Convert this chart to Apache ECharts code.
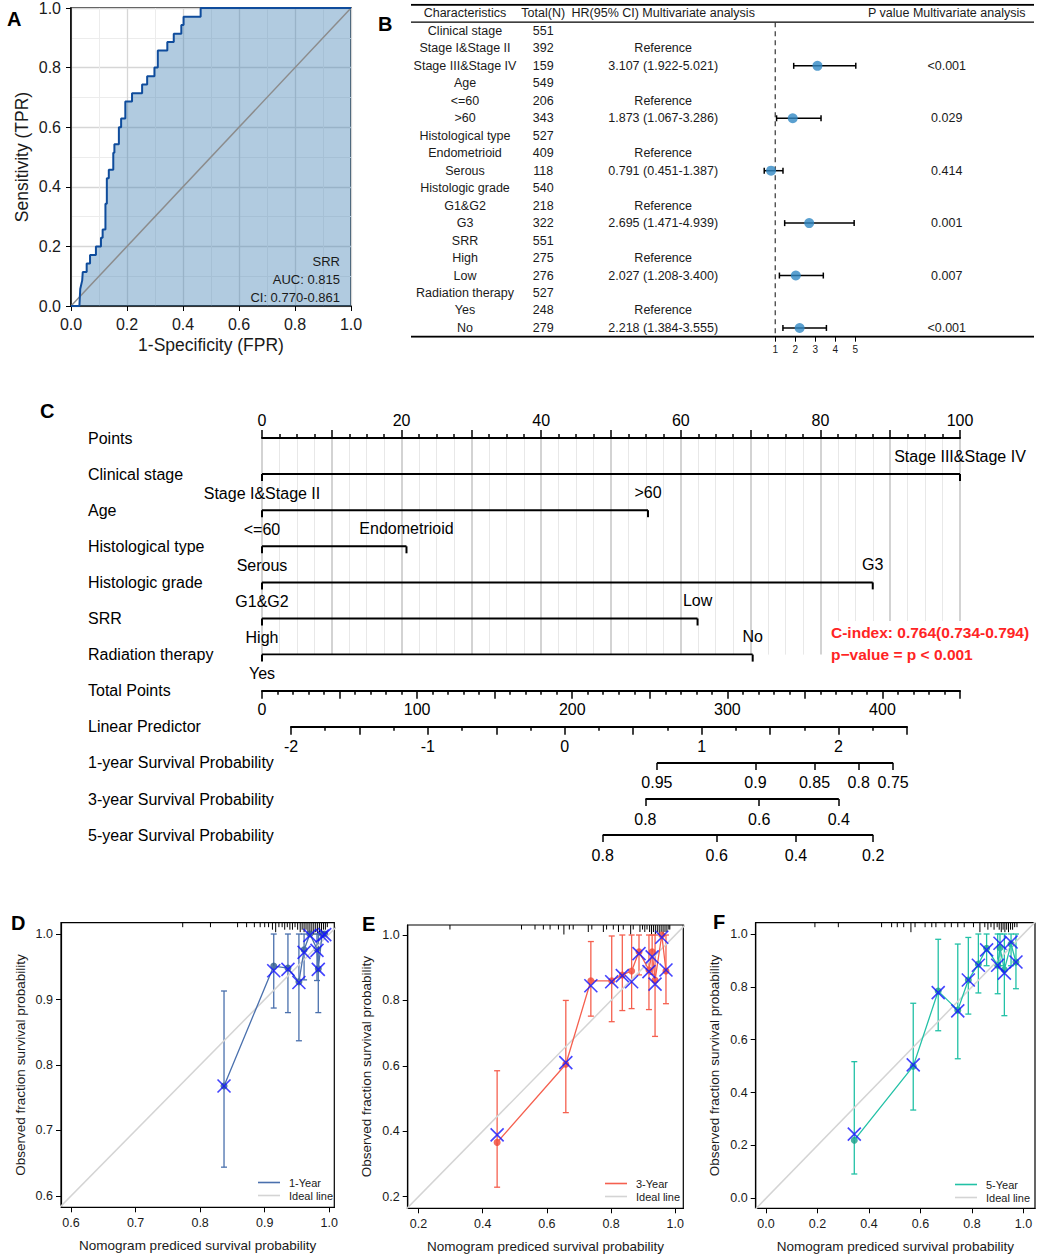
<!DOCTYPE html>
<html><head><meta charset="utf-8">
<script src="https://cdn.jsdelivr.net/npm/echarts@6/dist/echarts.min.js"></script>
<style>html,body{margin:0;padding:0;background:#fff}#c{width:1038px;height:1256px}</style>
</head><body><div id="c"></div><script>
// ---------- Panel A: ROC ----------
const rocFPR = [0,0.03,0.033,0.040,0.042,0.056,0.056,0.068,0.068,0.089,0.089,0.107,0.107,0.113,0.113,0.123,0.123,0.128,0.128,0.135,0.135,0.151,0.151,0.155,0.155,0.171,0.171,0.179,0.179,0.194,0.194,0.218,0.218,0.254,0.254,0.272,0.272,0.298,0.298,0.310,0.310,0.344,0.344,0.367,0.367,0.394,0.394,0.402,0.402,0.463,0.463,1];
const rocTPR = [0,0,0.057,0.086,0.114,0.114,0.143,0.143,0.171,0.171,0.2,0.2,0.229,0.229,0.257,0.257,0.343,0.343,0.429,0.429,0.457,0.457,0.514,0.514,0.543,0.543,0.6,0.6,0.629,0.629,0.686,0.686,0.714,0.714,0.743,0.743,0.771,0.771,0.8,0.8,0.857,0.857,0.886,0.886,0.914,0.914,0.943,0.943,0.971,0.971,1,1];
const rocText = ['SRR','AUC: 0.815','CI: 0.770-0.861'];

// ---------- Panel B: forest ----------
const forestHeader = ['Characteristics','Total(N)','HR(95% CI) Multivariate analysis','P value Multivariate analysis'];
const forestChar = ['Clinical stage','Stage I&Stage II','Stage III&Stage IV','Age','<=60','>60','Histological type','Endometrioid','Serous','Histologic grade','G1&G2','G3','SRR','High','Low','Radiation therapy','Yes','No'];
const forestN = ['551','392','159','549','206','343','527','409','118','540','218','322','551','275','276','527','248','279'];
const forestHRText = ['','Reference','3.107 (1.922-5.021)','','Reference','1.873 (1.067-3.286)','','Reference','0.791 (0.451-1.387)','','Reference','2.695 (1.471-4.939)','','Reference','2.027 (1.208-3.400)','','Reference','2.218 (1.384-3.555)'];
const forestP = ['','','<0.001','','','0.029','','','0.414','','','0.001','','','0.007','','','<0.001'];
const forestHR = [null,null,3.107,null,null,1.873,null,null,0.791,null,null,2.695,null,null,2.027,null,null,2.218];
const forestLo = [null,null,1.922,null,null,1.067,null,null,0.451,null,null,1.471,null,null,1.208,null,null,1.384];
const forestHi = [null,null,5.021,null,null,3.286,null,null,1.387,null,null,4.939,null,null,3.400,null,null,3.555];
const forestTicks = [1,2,3,4,5];

// ---------- Panel C: nomogram ----------
const nomoRowNames = ['Points','Clinical stage','Age','Histological type','Histologic grade','SRR','Radiation therapy','Total Points','Linear Predictor','1-year Survival Probability','3-year Survival Probability','5-year Survival Probability'];
const nomoLowLabels = ['Stage I&Stage II','<=60','Serous','G1&G2','High','Yes'];
const nomoHighLabels = ['Stage III&Stage IV','>60','Endometrioid','G3','Low','No'];
const nomoHighPoints = [100,55.3,20.7,87.5,62.4,70.3];
const surv1Labels = ['0.95','0.9','0.85','0.8','0.75'];
const surv1LP = [0.673,1.393,1.824,2.147,2.399];
const surv3Labels = ['0.8','0.6','0.4'];
const surv3LP = [0.589,1.420,2.002];
const surv5Labels = ['0.8','0.6','0.4','0.2'];
const surv5LP = [0.277,1.110,1.689,2.253];
const cIndexText = ['C-index: 0.764(0.734-0.794)','p\u2212value = p < 0.001'];

// ---------- Panels D/E/F: calibration ----------
const calDPred = [0.837,0.914,0.936,0.953,0.961,0.970,0.981,0.983,0.989,0.993];
const calDObs  = [0.768,0.951,0.948,0.927,0.976,1.000,0.977,0.947,1.000,1.000];
const calDCorr = [0.768,0.944,0.946,0.926,0.972,0.998,0.975,0.946,0.997,0.999];
const calDLo   = [0.644,0.887,0.880,0.837,0.930,1.000,0.929,0.880,1.000,1.000];
const calDHi   = [0.913,1,1,1,1,1,1,1,1,1];
const calDRug  = [[0.773,1],[0.816,1],[0.858,1],[0.872,1],[0.884,1],[0.893,1],[0.900,1],[0.906,1],[0.912,2],[0.917,3],[0.922,1],[0.927,1],[0.931,2],[0.935,1],[0.939,2],[0.943,2],[0.947,1],[0.951,2],[0.955,3],[0.958,2],[0.961,3],[0.964,2],[0.967,3],[0.970,4],[0.973,3],[0.976,4],[0.979,3],[0.982,4],[0.985,3],[0.988,3],[0.991,2],[0.994,2],[0.997,1]];
const calDTicks = [0.6,0.7,0.8,0.9,1.0];

const calEPred = [0.445,0.659,0.737,0.802,0.835,0.864,0.887,0.918,0.928,0.937,0.958,0.971];
const calEObs  = [0.366,0.605,0.860,0.860,0.878,0.890,0.949,0.893,0.949,0.862,1.000,0.890];
const calECorr = [0.389,0.610,0.845,0.857,0.876,0.857,0.943,0.888,0.933,0.850,0.993,0.893];
const calELo   = [0.229,0.457,0.752,0.735,0.769,0.775,0.878,0.772,0.880,0.690,1.000,0.790];
const calEHi   = [0.585,0.800,0.980,0.997,1,1,1,1,1,1,1,1];
const calERug  = [[0.298,1],[0.521,1],[0.563,1],[0.589,1],[0.610,1],[0.636,1],[0.653,3],[0.670,1],[0.682,1],[0.729,2],[0.740,1],[0.776,2],[0.786,1],[0.807,1],[0.823,2],[0.838,1],[0.861,3],[0.869,1],[0.890,2],[0.898,1],[0.905,2],[0.912,1],[0.920,2],[0.926,3],[0.932,2],[0.938,3],[0.944,2],[0.950,3],[0.956,2],[0.962,3],[0.968,2],[0.974,2],[0.980,1],[0.983,1]];
const calETicks = [0.2,0.4,0.6,0.8,1.0];

const calFPred = [0.343,0.572,0.669,0.745,0.786,0.825,0.857,0.900,0.909,0.926,0.952,0.971];
const calFObs  = [0.220,0.500,0.784,0.712,0.826,0.886,0.946,0.882,0.948,0.865,0.962,0.894];
const calFCorr = [0.243,0.505,0.778,0.709,0.826,0.882,0.940,0.882,0.965,0.852,0.970,0.894];
const calFLo   = [0.092,0.334,0.634,0.528,0.697,0.777,0.880,0.774,0.880,0.691,0.880,0.793];
const calFHi   = [0.517,0.738,0.980,0.962,0.987,1,1,1,1,1,1,1];
const calFRug  = [[0.190,1],[0.281,1],[0.449,1],[0.488,1],[0.510,1],[0.535,1],[0.563,3],[0.579,1],[0.618,1],[0.644,1],[0.660,1],[0.695,1],[0.720,1],[0.745,1],[0.770,1],[0.806,1],[0.831,3],[0.850,1],[0.862,2],[0.874,1],[0.886,2],[0.898,1],[0.906,2],[0.914,3],[0.921,2],[0.928,3],[0.935,2],[0.942,3],[0.950,2],[0.958,2],[0.966,1],[0.975,1]];
const calFTicks = [0,0.2,0.4,0.6,0.8,1.0];

// ================= build =================
const FONT = "'Liberation Sans', Arial, Helvetica, sans-serif";
const TXT = '#1a1a1a';
const chart = echarts.init(document.getElementById('c'), null, {renderer:'svg', width:1038, height:1256});

const grids = [], xAxes = [], yAxes = [], series = [], titles = [], legends = [];
function hidden(gi, min, max, inverse){ return {gridIndex:gi, type:'value', min:min, max:max, inverse:!!inverse, show:false}; }

// ---- A: ROC ----
grids.push({left:71, top:6.5, width:280, height:299.5, show:true, borderColor:'#000', borderWidth:1.5, backgroundColor:'transparent'});
function rocAxis(name, gap){
  return {gridIndex:0, type:'value', min:0, max:1, interval:0.2,
    axisLine:{show:true, onZero:false, lineStyle:{color:'#000', width:1.5}},
    axisTick:{show:true, length:5, lineStyle:{color:'#000', width:1}},
    axisLabel:{fontSize:16, color:TXT, margin:10, formatter:v=>v.toFixed(1)},
    splitLine:{show:true, lineStyle:{color:'#d6d6d6', width:1.3}},
    minorTick:{show:false, splitNumber:2},
    minorSplitLine:{show:true, lineStyle:{color:'#ececec', width:1}},
    name:name, nameLocation:'middle', nameGap:gap, nameTextStyle:{fontSize:17.5, color:TXT}};
}
xAxes.push(rocAxis('1-Specificity (FPR)', 30));
yAxes.push(rocAxis('Sensitivity (TPR)', 40));
series.push({type:'line', xAxisIndex:0, yAxisIndex:0, data:[[0,0],[1,1]], symbol:'none', silent:true,
  lineStyle:{color:'#8c8c8c', width:1.5}});
series.push({type:'line', xAxisIndex:0, yAxisIndex:0, data:rocFPR.map((x,i)=>[x,rocTPR[i]]), symbol:'none', silent:true,
  lineStyle:{color:'#0f4c9c', width:2}, areaStyle:{color:'rgba(70,130,180,0.6)', origin:'start'}});
rocText.forEach((t,i)=>titles.push({text:t, right:693, top:250+i*18, textStyle:{fontSize:13, color:TXT, fontWeight:'normal', fontFamily:FONT}}));

// ---- B: forest ----
const nRows = forestChar.length + 1;
grids.push({left:755.2, top:4.7, width:120.2, height:332});   // 1
grids.push({left:411, top:4.7, width:623, height:332});       // 2
xAxes.push({gridIndex:1, type:'value', min:0, max:6, axisLine:{show:false, onZero:false}, splitLine:{show:false},
  axisTick:{show:true, customValues:forestTicks, length:5, lineStyle:{color:'#000', width:1}},
  axisLabel:{customValues:forestTicks, fontSize:10, color:TXT, margin:8}});
yAxes.push(hidden(1, 0, nRows, true)); // index 1
function colAxis(data, pos, margin){
  return {gridIndex:1, type:'category', data:data, inverse:true, position:pos, boundaryGap:true,
    axisLine:{show:false, onZero:false}, axisTick:{show:false}, splitLine:{show:false},
    axisLabel:{interval:0, align:'center', margin:margin, fontSize:12.5, color:TXT}};
}
yAxes.push(colAxis([forestHeader[0]].concat(forestChar), 'left', 290.2)); // 2
yAxes.push(colAxis([forestHeader[1]].concat(forestN), 'left', 212));      // 3
yAxes.push(colAxis([forestHeader[2]].concat(forestHRText), 'left', 92));  // 4
yAxes.push(colAxis([forestHeader[3]].concat(forestP), 'right', 71.3));    // 5
xAxes.push(hidden(2, 0, 1));
yAxes.push(hidden(2, 0, nRows, true)); // 6
[[0,2],[1,1.2],[nRows,2]].forEach(r=>series.push({type:'line', xAxisIndex:2, yAxisIndex:6, data:[[0,r[0]],[1,r[0]]],
  symbol:'none', silent:true, lineStyle:{color:'#000', width:r[1]}}));
series.push({type:'line', xAxisIndex:1, yAxisIndex:1, data:[[1,1],[1,nRows]], symbol:'none', silent:true,
  lineStyle:{color:'#333', width:1.2, type:[5,4]}});
const forestErr = [], forestPts = [];
forestHR.forEach((v,i)=>{ if(v!==null){ forestErr.push([i+1.5, forestLo[i], forestHi[i]]); forestPts.push([v, i+1.5]); }});
series.push({type:'custom', xAxisIndex:1, yAxisIndex:1, data:forestErr, silent:true,
  renderItem:(p,api)=>{ const y=api.value(0), a=api.coord([api.value(1),y]), b=api.coord([api.value(2),y]);
    const st={stroke:'#000', lineWidth:1.5};
    return {type:'group', children:[
      {type:'line', shape:{x1:a[0],y1:a[1],x2:b[0],y2:b[1]}, style:st},
      {type:'line', shape:{x1:a[0],y1:a[1]-3,x2:a[0],y2:a[1]+3}, style:st},
      {type:'line', shape:{x1:b[0],y1:b[1]-3,x2:b[0],y2:b[1]+3}, style:st}]}; }});
series.push({type:'scatter', xAxisIndex:1, yAxisIndex:1, data:forestPts, symbol:'circle', symbolSize:10, silent:true, z:5,
  itemStyle:{color:'#3188c4'}});

// ---- C: nomogram ----
const ROW0 = 438, ROW = 36.1;
grids.push({left:262, top:ROW0, width:698, height:ROW*6});   // 3
grids.push({left:262, top:ROW0, width:698, height:ROW*11});  // 4
xAxes.push({gridIndex:3, type:'value', position:'top', min:0, max:100, interval:10,
  axisLine:{show:true, onZero:false, lineStyle:{color:'#000', width:2}},
  axisTick:{show:true, length:8, lineStyle:{color:'#000', width:1.5}},
  minorTick:{show:true, splitNumber:4, length:4, lineStyle:{color:'#000', width:1.5}},
  axisLabel:{fontSize:16, color:'#000', margin:10, formatter:v=>(v%20===0?String(v):'')},
  splitLine:{show:true, lineStyle:{color:'#c4c4c4', width:1.5}},
  minorSplitLine:{show:true, lineStyle:{color:'#e8e8e8', width:1}}});
yAxes.push(hidden(3, 0, 6, true)); // 7
xAxes.push(hidden(4, 0, 1));
yAxes.push({gridIndex:4, type:'category', data:nomoRowNames, inverse:true, boundaryGap:false,
  axisLine:{show:false, onZero:false}, axisTick:{show:false}, splitLine:{show:false},
  axisLabel:{interval:0, align:'left', margin:174, fontSize:16, color:'#000'}}); // 8
nomoHighPoints.forEach((hp,i)=>{
  series.push({type:'line', xAxisIndex:3, yAxisIndex:7, silent:true, symbol:'rect', symbolSize:[2,7], symbolOffset:[0,3.5],
    lineStyle:{color:'#000', width:2}, itemStyle:{color:'#000'},
    label:{show:true, fontSize:16, color:'#000', fontFamily:FONT},
    data:[{value:[0,i+1], label:{position:'bottom', distance:4, formatter:nomoLowLabels[i]}},
          {value:[hp,i+1], label:{position:'top', distance:10, formatter:nomoHighLabels[i]}}]});
});
function smallGrid(left, width, row){ grids.push({left:left, top:ROW0+ROW*row-1, width:width, height:1}); return grids.length-1; }
let gi = smallGrid(262, 698, 7); // total points
xAxes.push({gridIndex:gi, type:'value', min:0, max:450, interval:50,
  axisLine:{show:true, onZero:false, lineStyle:{color:'#000', width:2}},
  axisTick:{show:true, length:8, lineStyle:{color:'#000', width:1.5}},
  minorTick:{show:true, splitNumber:5, length:4, lineStyle:{color:'#000', width:1.5}},
  axisLabel:{fontSize:16, color:'#000', margin:11, formatter:v=>(v%100===0?String(v):'')},
  splitLine:{show:false}});
yAxes.push(hidden(gi, 0, 1));
gi = smallGrid(291, 616, 8); // linear predictor
xAxes.push({gridIndex:gi, type:'value', min:-2, max:2.5, interval:0.5,
  axisLine:{show:true, onZero:false, lineStyle:{color:'#000', width:2}},
  axisTick:{show:true, length:8, lineStyle:{color:'#000', width:1.5}},
  minorTick:{show:true, splitNumber:2, length:4, lineStyle:{color:'#000', width:1.5}},
  axisLabel:{fontSize:16, color:'#000', margin:12, formatter:v=>(Number.isInteger(v)?String(v):'')},
  splitLine:{show:false}});
yAxes.push(hidden(gi, 0, 1));
[[surv1LP,surv1Labels],[surv3LP,surv3Labels],[surv5LP,surv5Labels]].forEach((s,k)=>{
  const g = smallGrid(291, 616, 9+k);
  const lp = s[0], lab = s[1];
  xAxes.push({gridIndex:g, type:'value', min:-2, max:2.5, axisLine:{show:false, onZero:false}, splitLine:{show:false},
    axisTick:{show:true, customValues:lp, length:7, lineStyle:{color:'#000', width:1.5}},
    axisLabel:{customValues:lp, fontSize:16, color:'#000', margin:12, formatter:v=>{
      let b=0; lp.forEach((q,j)=>{ if(Math.abs(q-v)<Math.abs(lp[b]-v)) b=j; }); return lab[b]; }}});
  yAxes.push(hidden(g, 0, 1));
  series.push({type:'line', xAxisIndex:xAxes.length-1, yAxisIndex:yAxes.length-1, data:[[lp[0],0],[lp[lp.length-1],0]],
    symbol:'none', silent:true, lineStyle:{color:'#000', width:2}});
});
titles.push({text:cIndexText.join('\n'), left:829, top:621, backgroundColor:'#fff', padding:[0,6,0,2],
  textStyle:{color:'#ff2424', fontSize:15.5, fontWeight:'bold', lineHeight:22, fontFamily:FONT}});

// ---- D/E/F: calibration ----
function calPanel(cfg){
  grids.push({left:cfg.box[0], top:cfg.box[1], width:cfg.box[2], height:cfg.box[3], show:true, borderColor:'#000', borderWidth:1.2, backgroundColor:'transparent'});
  const g = grids.length-1;
  const mk = (min,max,ticks,name,gap,isY)=>({gridIndex:g, type:'value', min:min, max:max,
    axisLine:{show:true, onZero:false, lineStyle:{color:'#000', width:1.2}}, splitLine:{show:false},
    axisTick:{show:true, customValues:ticks, length:5, lineStyle:{color:'#000', width:1}},
    axisLabel:{customValues:ticks, formatter:v=>v.toFixed(1), fontSize:12.5, color:TXT, margin:isY?8:9},
    name:name, nameLocation:'middle', nameGap:gap, nameTextStyle:{fontSize:13.5, color:TXT}});
  xAxes.push(mk(cfg.xr[0], cfg.xr[1], cfg.ticks, 'Nomogram prediced survival probability', 31, false));
  yAxes.push(mk(cfg.yr[0], cfg.yr[1], cfg.ticks, 'Observed fraction survival probability', 34, true));
  const xi = xAxes.length-1, yi = yAxes.length-1;
  const ymax = cfg.yr[1];
  series.push({type:'line', name:'Ideal line', xAxisIndex:xi, yAxisIndex:yi, data:[[-1,-1],[2,2]], clip:true, symbol:'none', silent:true,
    color:'#d4d4d4', lineStyle:{color:'#d4d4d4', width:1.5}});
  series.push({type:'custom', xAxisIndex:xi, yAxisIndex:yi, data:cfg.rug, silent:true,
    renderItem:(p,api)=>{ const c=api.coord([api.value(0), ymax]);
      return {type:'line', shape:{x1:c[0],y1:c[1],x2:c[0],y2:c[1]+2+api.value(1)*2.5}, style:{stroke:'#000', lineWidth:1}}; }});
  const err = cfg.pred.map((x,i)=>[x, cfg.lo[i], cfg.hi[i]]).filter(d=>d[2]-d[1]>0.001);
  series.push({type:'custom', xAxisIndex:xi, yAxisIndex:yi, data:err, silent:true,
    renderItem:(p,api)=>{ const a=api.coord([api.value(0),api.value(1)]), b=api.coord([api.value(0),api.value(2)]);
      const st={stroke:cfg.color, lineWidth:1.3};
      return {type:'group', children:[
        {type:'line', shape:{x1:a[0],y1:a[1],x2:b[0],y2:b[1]}, style:st},
        {type:'line', shape:{x1:a[0]-3,y1:a[1],x2:a[0]+3,y2:a[1]}, style:st},
        {type:'line', shape:{x1:b[0]-3,y1:b[1],x2:b[0]+3,y2:b[1]}, style:st}]}; }});
  series.push({type:'line', name:cfg.name, xAxisIndex:xi, yAxisIndex:yi, data:cfg.pred.map((x,i)=>[x,cfg.obs[i]]), symbol:'none', silent:true,
    color:cfg.color, lineStyle:{color:cfg.color, width:1.3}});
  series.push({type:'scatter', xAxisIndex:xi, yAxisIndex:yi, data:cfg.pred.map((x,i)=>[x,cfg.obs[i]]), symbol:'circle', symbolSize:7, silent:true,
    itemStyle:{color:cfg.dot}});
  series.push({type:'scatter', xAxisIndex:xi, yAxisIndex:yi, data:cfg.pred.map((x,i)=>[x,cfg.corr[i]]), symbol:'path://M0,0L10,10M10,0L0,10', symbolSize:13, silent:true, z:4,
    itemStyle:{color:'rgba(0,0,0,0)', borderColor:'#1414ff', borderWidth:1.6}});
  legends.push({data:[cfg.name,'Ideal line'], orient:'vertical', left:cfg.leg[0], top:cfg.leg[1], icon:'rect', itemWidth:22, itemHeight:1.6, itemGap:2,
    selectedMode:false, textStyle:{fontSize:11, color:TXT, fontFamily:FONT, padding:[0,0,0,4]}});
}
calPanel({box:[61,922.7,273.3,284.6], xr:[0.5845,1.0078], yr:[0.5827,1.0173], ticks:calDTicks, name:'1-Year', color:'#4a70ad', dot:'#2e5b8c',
  pred:calDPred, obs:calDObs, corr:calDCorr, lo:calDLo, hi:calDHi, rug:calDRug, leg:[253,1172]});
calPanel({box:[407.7,925,275.6,283.3], xr:[0.1664,1.025], yr:[0.1645,1.0306], ticks:calETicks, name:'3-Year', color:'#f5604f', dot:'#f04636',
  pred:calEPred, obs:calEObs, corr:calECorr, lo:calELo, hi:calEHi, rug:calERug, leg:[600,1173]});
calPanel({box:[755.7,922.7,279.3,285.6], xr:[-0.040,1.045], yr:[-0.0378,1.0428], ticks:calFTicks, name:'5-Year', color:'#22c1a6', dot:'#17a088',
  pred:calFPred, obs:calFObs, corr:calFCorr, lo:calFLo, hi:calFHi, rug:calFRug, leg:[950,1174]});

// ---- panel letters ----
[['A',2,4],['B',373,9],['C',35,396],['D',6,908],['E',357,909],['F',708,907]].forEach(l=>titles.push({text:l[0], left:l[1], top:l[2],
  textStyle:{fontSize:20, fontWeight:'bold', color:'#000', fontFamily:FONT}}));

chart.setOption({
  backgroundColor:'#fff', animation:false,
  textStyle:{fontFamily:FONT},
  title:titles, legend:legends, grid:grids, xAxis:xAxes, yAxis:yAxes, series:series
});
</script></body></html>
